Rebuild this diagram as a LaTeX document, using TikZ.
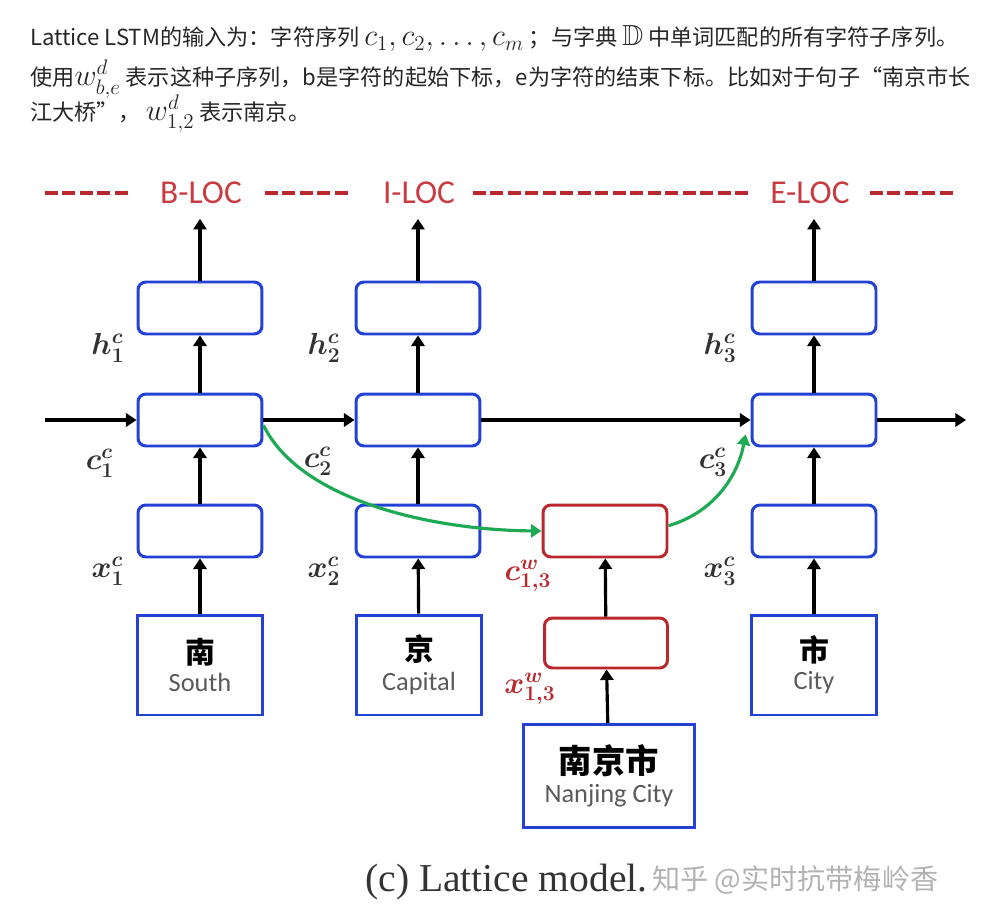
\documentclass[tikz,border=0pt]{standalone}
\usepackage{fontspec}
\usepackage{amsmath,amssymb,bm}
\usetikzlibrary{calc,arrows.meta}
\setsansfont{Carlito}
\newfontfamily\cjk{Noto Sans CJK SC}
\newfontfamily\capfont{Liberation Serif}
\definecolor{cellblue}{RGB}{35,65,210}
\definecolor{wordred}{RGB}{185,40,45}
\definecolor{tagred}{RGB}{200,60,65}
\definecolor{linkgreen}{RGB}{30,170,85}
\definecolor{lblgray}{RGB}{50,50,50}
\definecolor{subgray}{RGB}{90,90,90}
\newcommand{\parmath}[1]{{\fontsize{16.5}{14}\selectfont$#1$}}

\begin{document}
\begin{tikzpicture}[x=0.02cm, y=-0.02cm,
  cell/.style={draw=cellblue, line width=1.7pt, rounded corners=4.5pt, fill=white,
    minimum width=2.48cm, minimum height=1.04cm, inner sep=0pt},
  wcell/.style={cell, draw=wordred},
  charbox/.style={draw=cellblue, line width=1.7pt, minimum width=2.5cm, minimum height=2cm,
    inner sep=0pt, align=center},
  flow/.style={-{Triangle[length=6pt,width=7.5pt]}, line width=1.8pt},
  link/.style={-{Triangle[length=6pt,width=7.5pt]}, line width=1.8pt, draw=linkgreen},
  tagdash/.style={draw=wordred, line width=2.3pt, dash pattern=on 7.4pt off 2.55pt},
  tag/.style={font=\sffamily\fontsize{19}{22}\selectfont, text=tagred},
  lbl/.style={font=\fontsize{18}{20}\selectfont, text=lblgray},
  wlbl/.style={lbl, text=wordred},
  para/.style={anchor=base west, inner sep=0pt, font=\cjk\fontsize{12.6}{14}\selectfont, text=black!85},
]
  % Page frame
  \useasboundingbox (0,0) rectangle (991,909);

  % Text above the figure
  \node[para] (line1) at (30,46) {Lattice LSTM的输入为：字符序列 \parmath{c_1,c_2,\ldots,c_m} ；与字典 \parmath{\mathbb{D}} 中单词匹配的所有字符子序列。};
  \node[para] (line2) at (30,86) {使用\parmath{w^d_{b,e}} 表示这种子序列，b是字符的起始下标，e为字符的结束下标。比如对于句子“南京市长};
  \node[para] (line3) at (30,121) {江大桥”，\ \parmath{w^d_{1,2}} 表示南京。};

  % Tag line
  \node[tag] (tagB) at (201,193) {B-LOC};
  \node[tag] (tagI) at (419,193) {I-LOC};
  \node[tag] (tagE) at (810,193) {E-LOC};
  \draw[tagdash] (45,193) -- (128,193);
  \draw[tagdash] (265,193) -- (348,193);
  \draw[tagdash] (473,193) -- (748.5,193);
  \draw[tagdash] (870,193) -- (953,193);

  % Character columns
  \foreach \i/\x in {1/200, 2/418, 4/814} {
    \node[cell] (out\i)  at (\x,308) {};
    \node[cell] (cell\i) at (\x,420) {};
    \node[cell] (emb\i)  at (\x,531) {};
    \draw[flow] (emb\i) -- (cell\i);
    \draw[flow] (cell\i) -- (out\i);
  }
  \node[charbox] (chr1) at (200,665)
    {{\cjk\bfseries\fontsize{17}{20}\selectfont 南}\\[4pt]{\sffamily\fontsize{15}{17}\selectfont\color{subgray}South}};
  \node[charbox] (chr2) at (419,665)
    {{\cjk\bfseries\fontsize{17}{20}\selectfont 京}\\[4pt]{\sffamily\fontsize{15}{17}\selectfont\color{subgray}Capital}};
  \node[charbox] (chr4) at (814,665)
    {{\cjk\bfseries\fontsize{17}{20}\selectfont 市}\\[4pt]{\sffamily\fontsize{15}{17}\selectfont\color{subgray}City}};
  \draw[flow] (chr1) -- (emb1);
  \draw[flow] (chr2) -- (emb2);
  \draw[flow] (chr4) -- (emb4);
  \draw[flow, shorten >=5pt] (out1.north) -- (out1.north |- tagB.south);
  \draw[flow, shorten >=5pt] (out2.north) -- (out2.north |- tagI.south);
  \draw[flow, shorten >=5pt] (out4.north) -- (out4.north |- tagE.south);

  % Word path
  \node[wcell] (wc) at (605,531) {};
  \node[wcell, minimum width=2.46cm, minimum height=1cm] (wx) at (606,643) {};
  \node[charbox, minimum width=3.44cm, minimum height=2.06cm] (word) at (609,776)
    {{\cjk\bfseries\fontsize{19}{22}\selectfont 南京市}\\[3pt]{\sffamily\fontsize{15}{17}\selectfont\color{subgray}Nanjing City}};
  \draw[flow] (word) -- (wx);
  \draw[flow] (wx) -- (wc);

  % Cell state chain
  \coordinate (cin)  at (45,420);
  \coordinate (cout) at (966,420);
  \draw[flow] (cin) -- (cell1);
  \draw[flow] (cell1) -- (cell2);
  \draw[flow] (cell2) -- (cell4);
  \draw[flow] (cell4) -- (cout);

  % Lattice links
  \coordinate (c3in) at ($(cell4.south west)+(-5,-13)$);
  \draw[link] ([yshift=-3pt]cell1.east) .. controls (300,500) and (430,530) .. (wc.west);
  \draw[link] ([yshift=3pt]wc.east) .. controls (715,512) and (738,475) .. (c3in);

  % Labels
  \node[lbl] (h1) at (108,348) {$\bm{h^c_1}$};
  \node[lbl] (c1) at (100,463) {$\bm{c^c_1}$};
  \node[lbl] (x1) at (108,571) {$\bm{x^c_1}$};
  \node[lbl] (h2) at (324,348) {$\bm{h^c_2}$};
  \node[lbl] (c2) at (318,461) {$\bm{c^c_2}$};
  \node[lbl] (x2) at (324,571) {$\bm{x^c_2}$};
  \node[lbl] (h3) at (720,348) {$\bm{h^c_3}$};
  \node[lbl] (c3) at (713,462) {$\bm{c^c_3}$};
  \node[lbl] (x3) at (720,571) {$\bm{x^c_3}$};
  \node[wlbl] (cw) at (528,576) {$\bm{c^w_{1,3}}$};
  \node[wlbl] (xw) at (530,689) {$\bm{x^w_{1,3}}$};

  % Caption
  \node[anchor=base west, inner sep=0pt, text=black!80, font=\capfont\fontsize{22.5}{26}\selectfont]
    (caption) at (365,891) {(c) Lattice model.};
  \node[anchor=base west, inner sep=0pt, text=black!30, font=\cjk\fontsize{16}{19}\selectfont]
    (mark) at (652,889) {知乎 @实时抗带梅岭香};
\end{tikzpicture}
\end{document}
